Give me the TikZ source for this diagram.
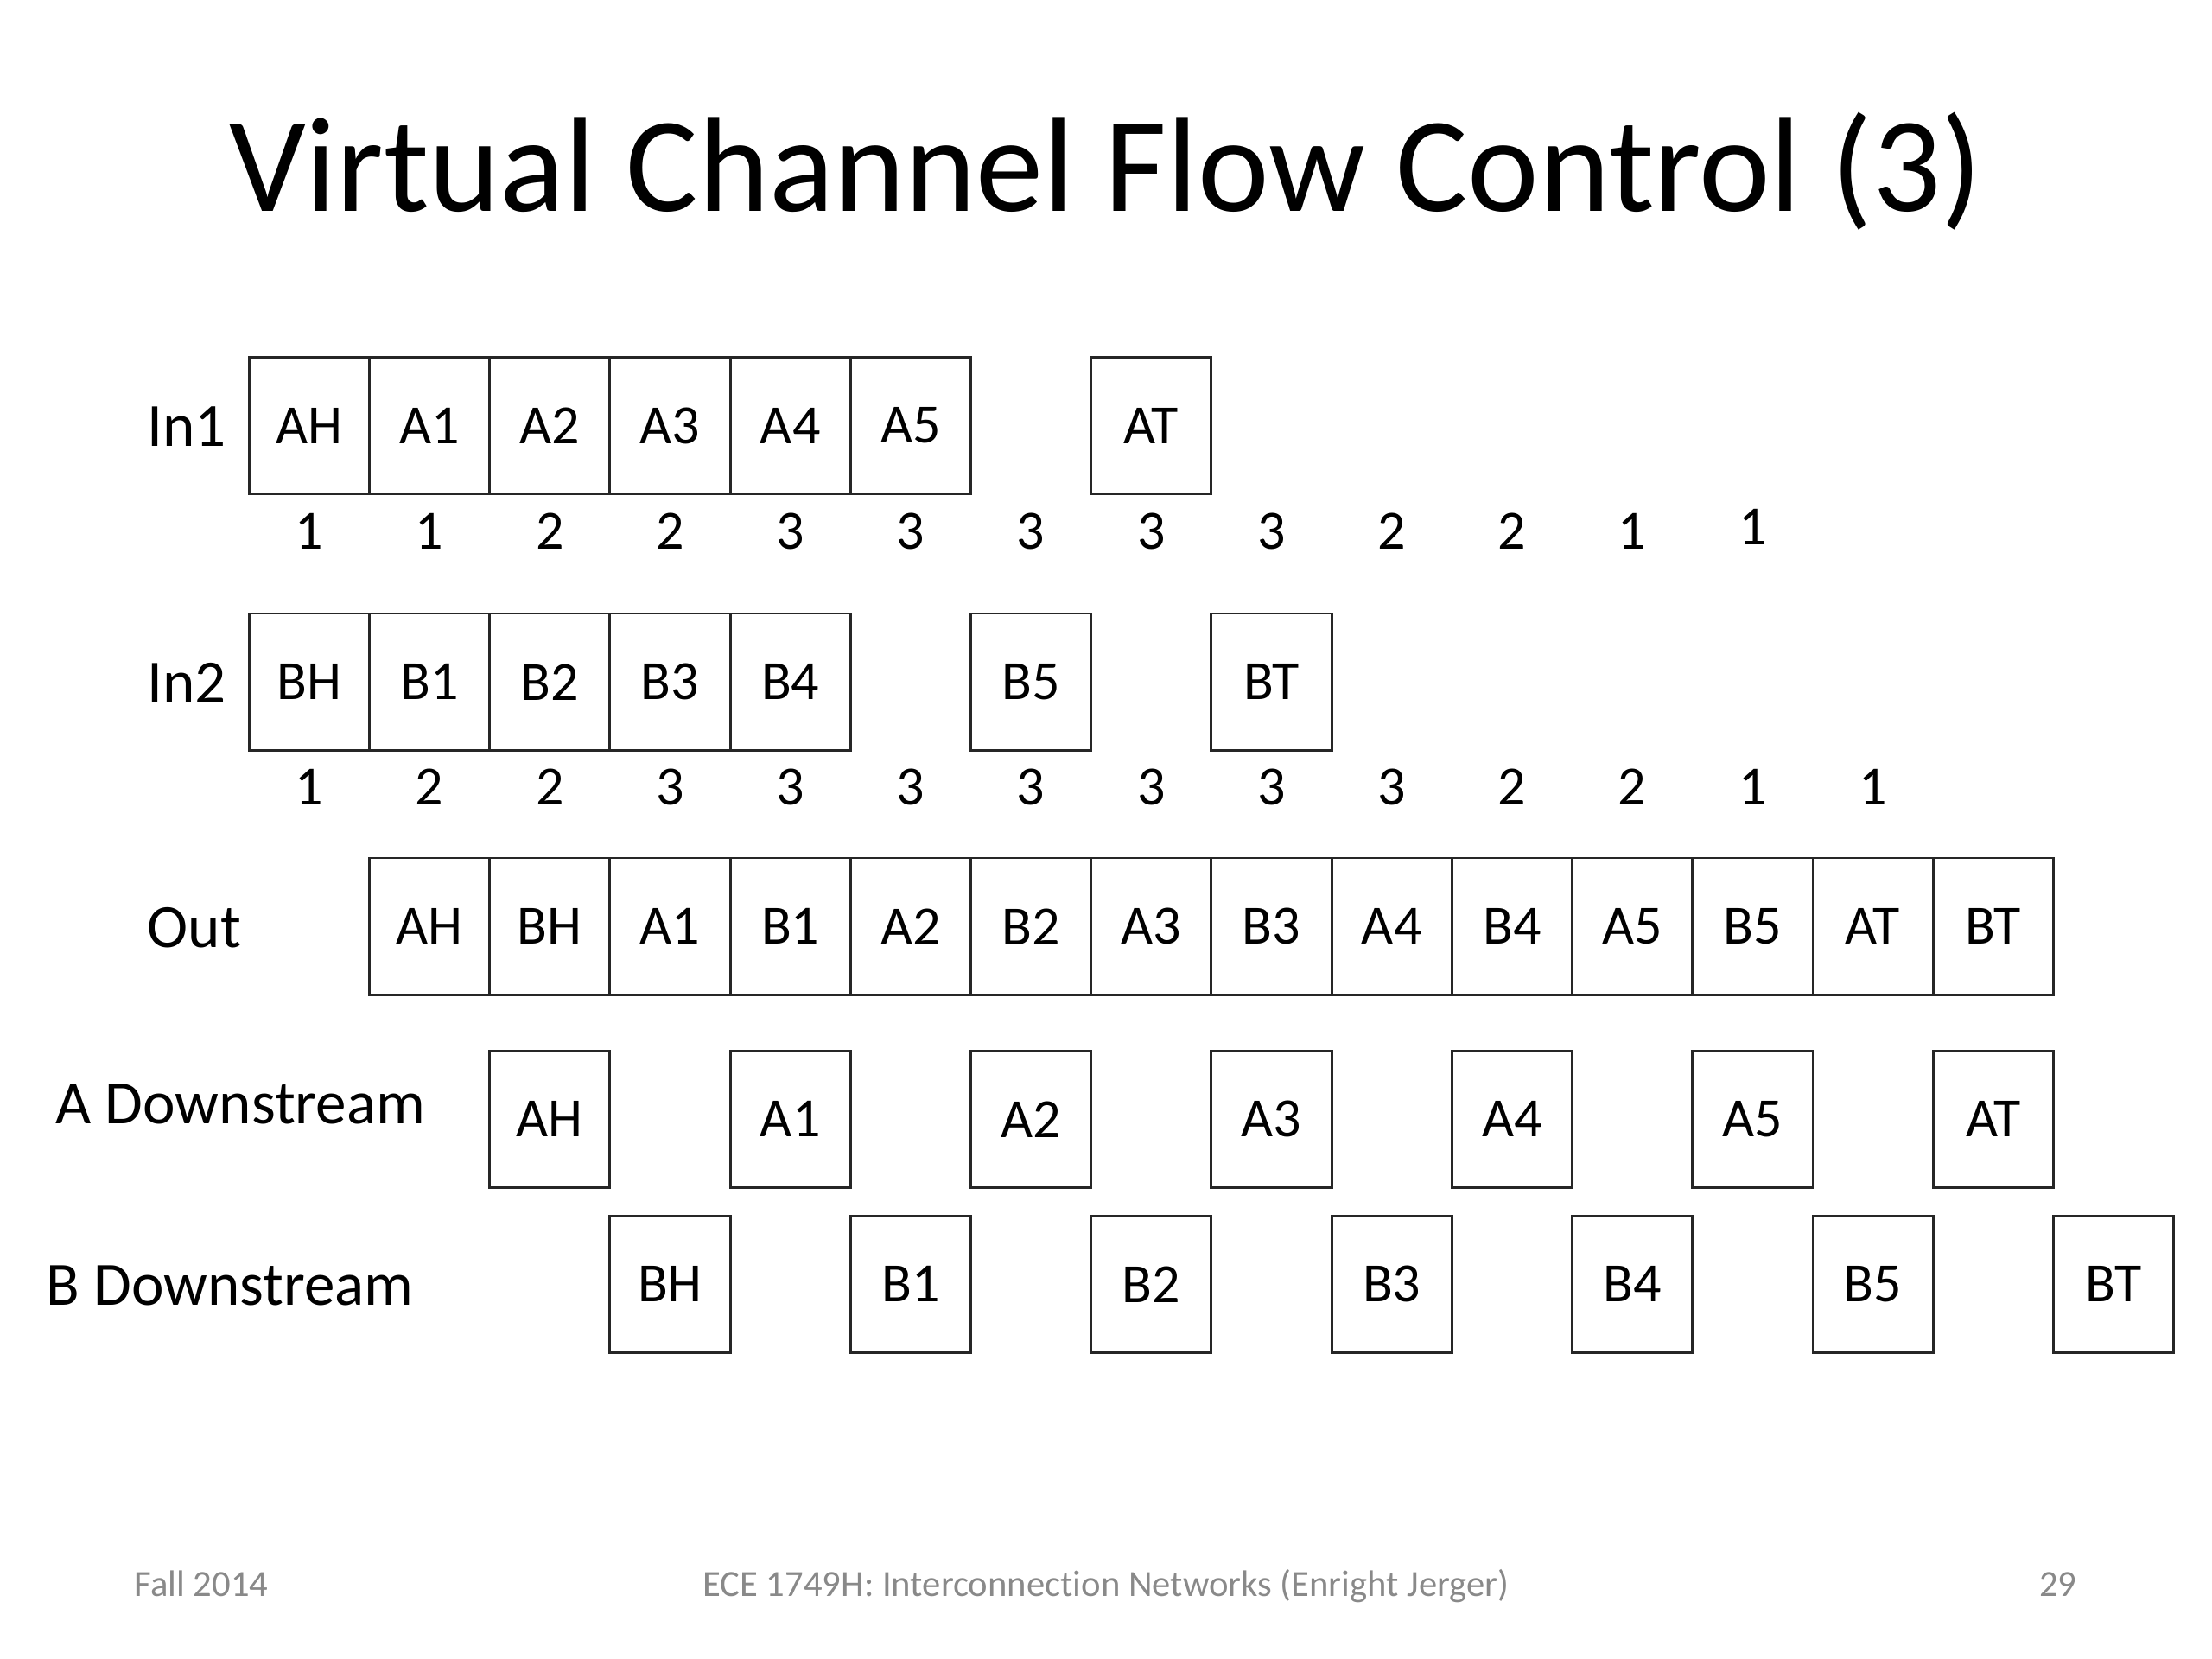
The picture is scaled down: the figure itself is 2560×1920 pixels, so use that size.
\documentclass[tikz,border=0pt]{standalone}
\usepackage{fontspec}
\setmainfont{Carlito}
\newfontfamily\footfont[Ligatures=NoCommon]{Carlito}
\definecolor{footgray}{RGB}{137,137,137}
\begin{document}
\begin{tikzpicture}[x=0.28125pt,y=-0.28125pt,
  cell/.style={draw=black!85,line width=0.8pt,minimum width=39.15pt,minimum height=44.58pt,inner sep=0pt,outer sep=0pt,font=\fontsize{18}{21}\selectfont},
  cnt/.style={inner sep=0pt,font=\fontsize{18}{21}\selectfont},
  rowlbl/.style={anchor=base west,inner sep=0pt,font=\fontsize{20}{24}\selectfont},
  foot/.style={inner sep=0pt,text=footgray,font=\footfont\fontsize{12}{14}\selectfont}]
\useasboundingbox (0,0) rectangle (2560,1920);
\node[anchor=base,inner sep=0pt,font=\fontsize{44}{52}\selectfont] (title) at (1280,245) {Virtual Channel Flow Control (3)};
% In1
\node[rowlbl] (lin1) at (170,517) {In1};
\foreach \t [count=\k from 0] in {AH,A1,A2,A3,A4,A5}
  \node[cell] (in1-\k) at ({357.9+139.2*\k},492.5) {\t};
\node[cell] (in1-7) at ({357.9+139.2*7},492.5) {AT};
\foreach \n [count=\k from 0] in {1,1,2,2,3,3,3,3,3,2,2,1}
  \node[cnt] (n1-\k) at ({357.9+139.2*\k},615) {\n};
\node[cnt] (n1-12) at ({357.9+139.2*12},610) {1};
% In2
\node[rowlbl] (lin2) at (170,813) {In2};
\foreach \t [count=\k from 0] in {BH,B1,B2,B3,B4}
  \node[cell] (in2-\k) at ({357.9+139.2*\k},789.25) {\t};
\node[cell] (in2-6) at ({357.9+139.2*6},789.25) {B5};
\node[cell] (in2-8) at ({357.9+139.2*8},789.25) {BT};
\foreach \n [count=\k from 0] in {1,2,2,3,3,3,3,3,3,3,2,2,1,1}
  \node[cnt] (n2-\k) at ({357.9+139.2*\k},911) {\n};
% Out
\node[rowlbl] (lout) at (170,1096) {Out};
\foreach \t [count=\k from 1] in {AH,BH,A1,B1,A2,B2,A3,B3,A4,B4,A5,B5,AT,BT}
  \node[cell] (out-\k) at ({357.9+139.2*\k},1072.25) {\t};
% A downstream
\node[rowlbl] (la) at (64,1300) {A Downstream};
\foreach \t [count=\i from 1] in {AH,A1,A2,A3,A4,A5,AT}
  \node[cell] (ad-\i) at ({357.9+139.2*2*\i},1295.25) {\t};
% B downstream
\node[rowlbl] (lb) at (53,1510) {B Downstream};
\foreach \t [count=\i from 1] in {BH,B1,B2,B3,B4,B5,BT}
  \node[cell] (bd-\i) at ({357.9+139.2*(2*\i+1)},1486.25) {\t};
% footer
\node[foot,anchor=base west] (f1) at (155,1847) {Fall 2014};
\node[foot,anchor=base] (f2) at (1280,1847) {ECE 1749H: Interconnection Networks (Enright Jerger)};
\node[foot,anchor=base east] (f3) at (2404,1847) {29};
\end{tikzpicture}
\end{document}
